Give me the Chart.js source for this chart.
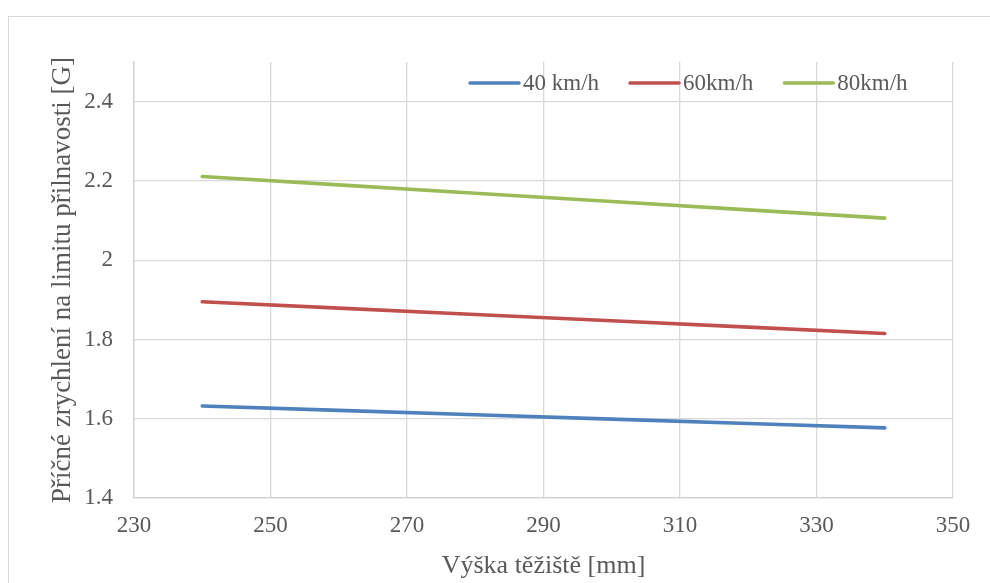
<!DOCTYPE html>
<html>
<head>
<meta charset="utf-8">
<script src="https://cdn.jsdelivr.net/npm/chart.js@4"></script>
<style>
  html, body { margin: 0; padding: 0; background: #fff; overflow: hidden; }
  #frame { position: absolute; left: 8px; top: 16px; width: 1000px; height: 600px; border: 1px solid #d9d9d9; }
  #wrap { position: absolute; left: 0; top: 0; width: 990px; height: 583px; }
</style>
</head>
<body>
<div id="frame"></div>
<div id="wrap"><canvas id="chart" width="990" height="583"></canvas></div>
<script>
// x values (center of gravity height, mm)
const heights = [240, 260, 280, 300, 320, 340];

// lateral acceleration at grip limit [G]
const speed40 = [1.632, 1.621, 1.610, 1.599, 1.588, 1.577];
const speed60 = [1.895, 1.879, 1.863, 1.847, 1.831, 1.815];
const speed80 = [2.211, 2.190, 2.169, 2.148, 2.127, 2.106];

const seriesLabels = ['40 km/h', '60km/h', '80km/h'];
const seriesColors = ['#4f81bd', '#c0504d', '#9bbb59'];

const xTicks = [230, 250, 270, 290, 310, 330, 350];
const yTicks = [1.4, 1.6, 1.8, 2, 2.2, 2.4];

const FONT = '"Liberation Serif", "Times New Roman", serif';
const TEXT = '#595959';

function toPoints(values) {
  return heights.map((h, i) => ({ x: h, y: values[i] }));
}

// Legend drawn inside the plot area, top right (like Excel)
const insideLegend = {
  id: 'insideLegend',
  afterDraw(chart) {
    const ctx = chart.ctx;
    ctx.save();
    ctx.font = '23px ' + FONT;
    ctx.textBaseline = 'middle';
    let x = 470;
    const y = 83;
    chart.data.datasets.forEach(ds => {
      ctx.strokeStyle = ds.borderColor;
      ctx.lineWidth = 3.5;
      ctx.lineCap = 'round';
      ctx.beginPath();
      ctx.moveTo(x, y);
      ctx.lineTo(x + 49, y);
      ctx.stroke();
      ctx.fillStyle = TEXT;
      ctx.fillText(ds.label, x + 53, y + 1);
      x += 53 + ctx.measureText(ds.label).width + 31;
    });
    ctx.restore();
  }
};

const datasets = [speed40, speed60, speed80].map((vals, i) => ({
  label: seriesLabels[i],
  data: toPoints(vals),
  borderColor: seriesColors[i],
  backgroundColor: seriesColors[i],
  borderWidth: 3.6,
  borderCapStyle: 'round',
  pointRadius: 0,
  tension: 0,
  fill: false
}));

new Chart(document.getElementById('chart'), {
  type: 'line',
  data: { datasets: datasets },
  options: {
    responsive: false,
    animation: false,
    layout: {
      padding: { top: 62, right: 37, bottom: 0, left: 47 }
    },
    plugins: {
      legend: { display: false },
      tooltip: { enabled: false }
    },
    scales: {
      x: {
        type: 'linear',
        min: 230,
        max: 350,
        afterBuildTicks: scale => { scale.ticks = xTicks.map(v => ({ value: v })); },
        afterFit: scale => { scale.height = 85; },
        ticks: {
          padding: 14,
          color: TEXT,
          font: { family: FONT, size: 23 },
          callback: v => String(v)
        },
        grid: { color: '#d9d9d9', lineWidth: 1.3, drawTicks: false },
        border: { color: '#d0d0d0', width: 1.3 },
        title: {
          display: true,
          text: 'Výška těžiště [mm]',
          color: TEXT,
          font: { family: FONT, size: 26 },
          padding: { top: 0, bottom: 1 }
        }
      },
      y: {
        type: 'linear',
        min: 1.4,
        max: 2.5,
        afterBuildTicks: scale => { scale.ticks = yTicks.map(v => ({ value: v })); },
        afterFit: scale => { scale.width = 134 - 47; },
        ticks: {
          padding: 21,
          color: TEXT,
          font: { family: FONT, size: 23 },
          callback: v => String(v)
        },
        grid: { color: '#d9d9d9', lineWidth: 1.3, drawTicks: false },
        border: { color: '#d0d0d0', width: 1.3 },
        title: {
          display: true,
          text: 'Příčné zrychlení na limitu přilnavosti [G]',
          color: TEXT,
          font: { family: FONT, size: 27 },
          padding: 0
        }
      }
    }
  },
  plugins: [insideLegend]
});
</script>
</body>
</html>
